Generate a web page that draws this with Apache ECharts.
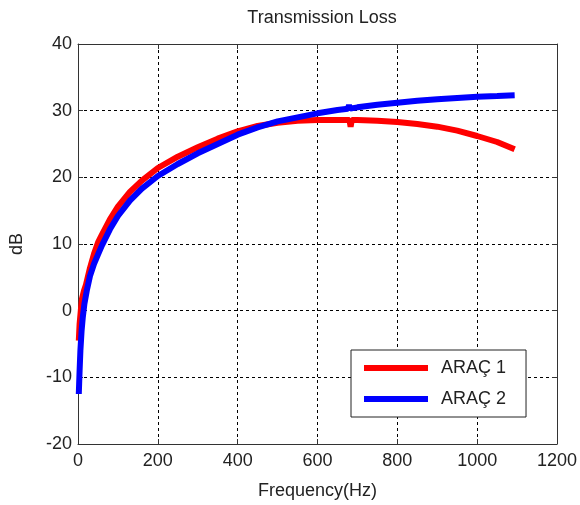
<!DOCTYPE html>
<html>
<head>
<meta charset="utf-8">
<script src="https://cdn.jsdelivr.net/npm/echarts@6/dist/echarts.min.js"></script>
<style>
  html, body { margin: 0; padding: 0; background: #fff; }
  #chart { width: 580px; height: 505px; }
</style>
</head>
<body>
<div id="chart"></div>
<script>
// frequencies (Hz) and transmission loss (dB)
var arac1Freq = [2, 4, 7, 10, 15, 20, 30, 40, 50, 60, 80, 100, 130, 160, 200, 250, 300, 350, 400, 450, 500, 550, 600, 650, 680, 683, 686, 700, 750, 800, 850, 900, 950, 1000, 1050, 1094];
var arac1Db = [-4.5, -2, 0, 1.8, 3, 3.9, 6.4, 8.5, 10.2, 11.4, 13.7, 15.6, 17.8, 19.5, 21.4, 23.1, 24.5, 25.8, 26.9, 27.7, 28.2, 28.5, 28.6, 28.6, 28.6, 27.6, 28.6, 28.6, 28.5, 28.3, 28.0, 27.6, 27.0, 26.2, 25.3, 24.2];

var arac2Freq = [2, 4, 6, 9, 12, 16, 22, 30, 40, 50, 60, 80, 100, 130, 160, 200, 250, 300, 350, 400, 450, 500, 550, 600, 650, 676, 679, 682, 700, 750, 800, 850, 900, 950, 1000, 1050, 1094];
var arac2Db = [-12.5, -9, -6, -3, -1, 1, 3, 5.2, 7, 8.4, 9.8, 12.2, 14.2, 16.5, 18.3, 20.2, 22, 23.6, 25, 26.4, 27.5, 28.4, 29, 29.6, 30.1, 30.3, 30.8, 30.3, 30.5, 30.9, 31.2, 31.5, 31.7, 31.9, 32.1, 32.2, 32.3];

var xTicks = [0, 200, 400, 600, 800, 1000, 1200];
var yTicks = [-20, -10, 0, 10, 20, 30, 40];

function pairs(xs, ys) {
  return xs.map(function (x, i) { return [x, ys[i]]; });
}

var chart = echarts.init(document.getElementById('chart'));

var font = 'Liberation Sans, Arial, sans-serif';
var axisColor = '#333';
var textColor = '#222';

var option = {
  animation: false,
  title: {
    text: 'Transmission Loss',
    left: 317, top: 4,
    textAlign: 'center',
    textStyle: { fontFamily: font, fontSize: 18, fontWeight: 'normal', color: textColor }
  },
  grid: { left: 78, right: 23, top: 44, bottom: 59 },
  legend: {
    orient: 'vertical',
    left: 351, top: 350,
    width: 196,
    padding: [9, 20, 9, 13],
    itemGap: 13,
    itemWidth: 64, itemHeight: 6,
    icon: 'rect',
    borderColor: '#222', borderWidth: 1,
    backgroundColor: '#fff',
    textStyle: { fontFamily: font, fontSize: 18, color: textColor, padding: [0, 0, 0, 8] },
    data: ['ARAÇ 1', 'ARAÇ 2']
  },
  xAxis: [{
    type: 'value',
    min: xTicks[0], max: xTicks[xTicks.length - 1], interval: 200,
    name: 'Frequency(Hz)',
    nameLocation: 'middle', nameGap: 38,
    nameTextStyle: { fontFamily: font, fontSize: 18, color: textColor },
    axisLine: { onZero: false, lineStyle: { color: axisColor, width: 1 } },
    axisTick: { inside: true, length: 5, lineStyle: { color: axisColor } },
    axisLabel: { fontFamily: font, fontSize: 18, color: textColor, margin: 8,
      formatter: function (v) { return String(v); } },
    splitLine: { show: true, lineStyle: { color: '#000', type: [3, 3], width: 1 } }
  }, {
    type: 'value', position: 'top',
    min: xTicks[0], max: xTicks[xTicks.length - 1], interval: 200,
    axisLine: { show: true, onZero: false, lineStyle: { color: axisColor } },
    axisTick: { show: true, inside: true, length: 5, lineStyle: { color: axisColor } },
    axisLabel: { show: false },
    splitLine: { show: false }
  }],
  yAxis: [{
    type: 'value',
    min: yTicks[0], max: yTicks[yTicks.length - 1], interval: 10,
    name: 'dB',
    nameLocation: 'middle', nameGap: 52,
    nameTextStyle: { fontFamily: font, fontSize: 18, color: textColor },
    axisLine: { show: true, onZero: false, lineStyle: { color: axisColor, width: 1 } },
    axisTick: { show: true, inside: true, length: 5, lineStyle: { color: axisColor } },
    axisLabel: { fontFamily: font, fontSize: 18, color: textColor, margin: 6 },
    splitLine: { show: true, lineStyle: { color: '#000', type: [3, 3], width: 1 } }
  }, {
    type: 'value', position: 'right',
    min: yTicks[0], max: yTicks[yTicks.length - 1], interval: 10,
    axisLine: { show: true, onZero: false, lineStyle: { color: axisColor } },
    axisTick: { show: true, inside: true, length: 5, lineStyle: { color: axisColor } },
    axisLabel: { show: false },
    splitLine: { show: false }
  }],
  series: [{
    name: 'ARAÇ 1',
    type: 'line',
    showSymbol: false,
    color: '#ff0000',
    lineStyle: { width: 6, color: '#ff0000' },
    data: pairs(arac1Freq, arac1Db)
  }, {
    name: 'ARAÇ 2',
    type: 'line',
    showSymbol: false,
    color: '#0000ff',
    lineStyle: { width: 6, color: '#0000ff' },
    data: pairs(arac2Freq, arac2Db)
  }]
};

chart.setOption(option);
</script>
</body>
</html>
